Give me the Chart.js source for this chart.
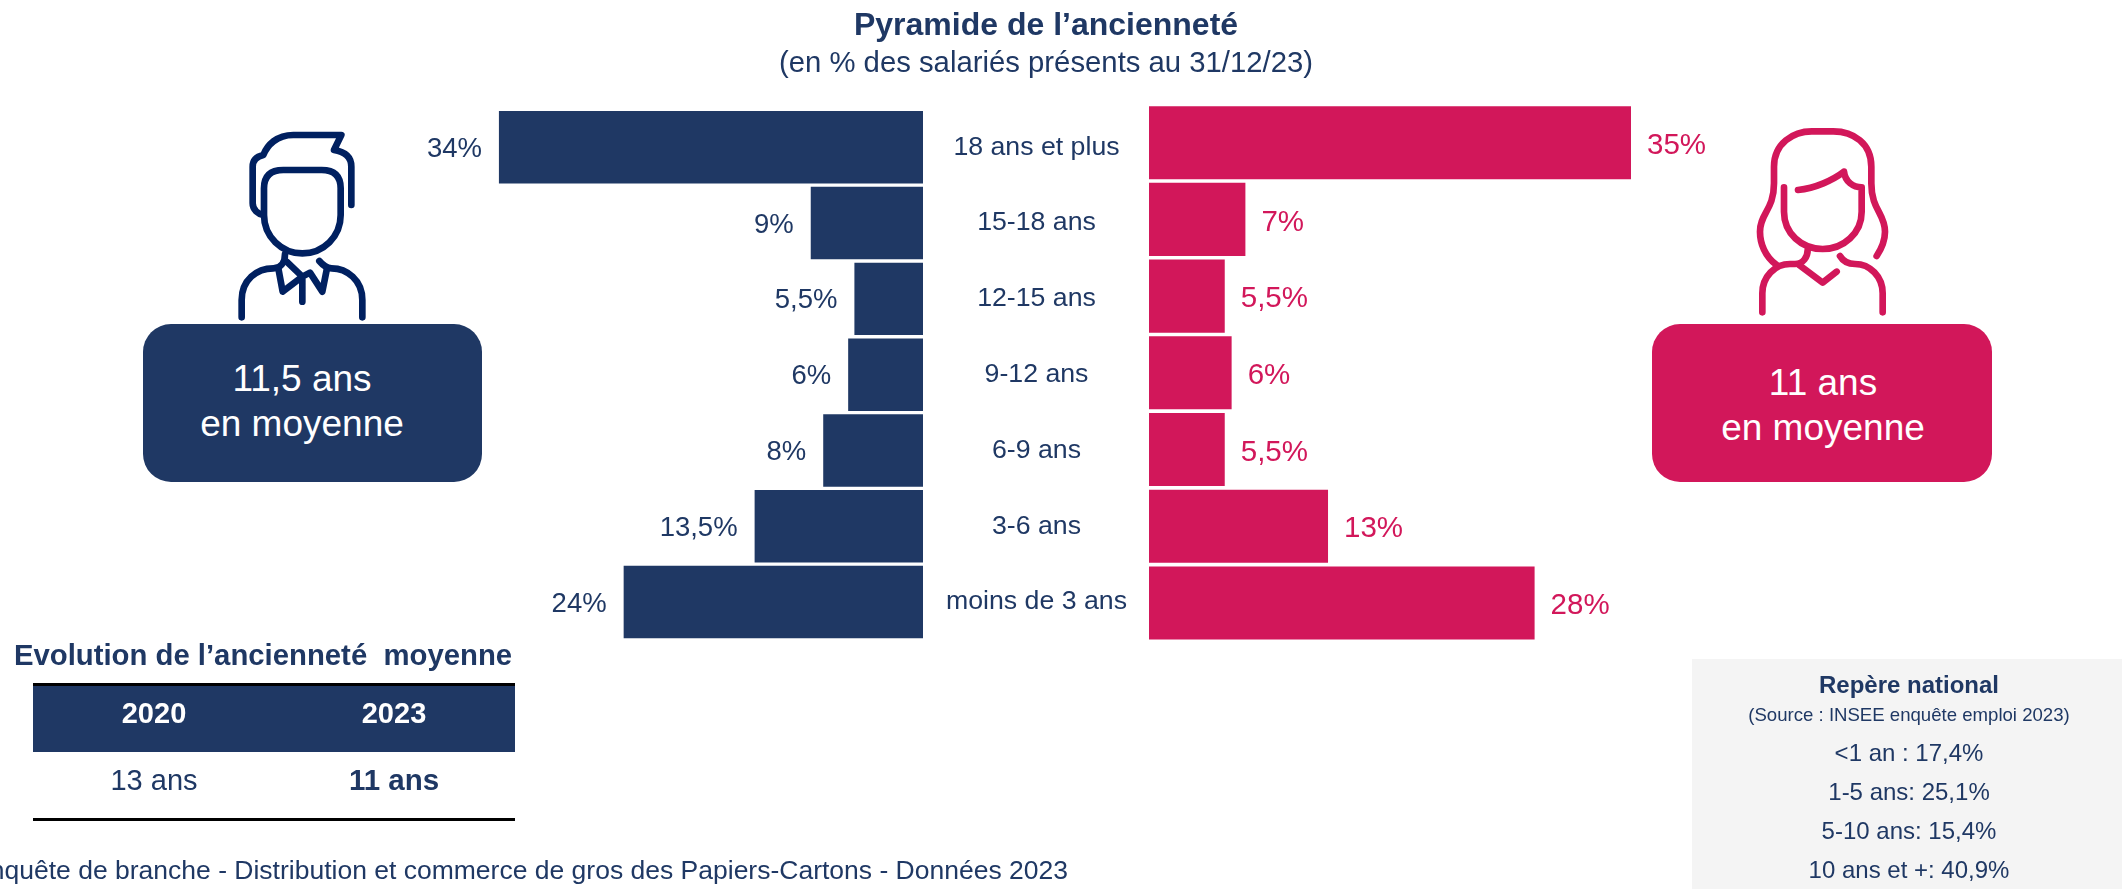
<!DOCTYPE html>
<html lang="fr">
<head>
<meta charset="utf-8">
<title>Pyramide de l'ancienneté</title>
<script src="https://cdn.jsdelivr.net/npm/chart.js@4"></script>
<style>
html,body{margin:0;padding:0;background:#fff;width:2126px;height:889px;overflow:hidden;font-family:"Liberation Sans",Arial,sans-serif;color:#1F3864}
#stage{position:relative;width:2126px;height:889px;overflow:hidden}
canvas{position:absolute;top:0}
.t{position:absolute;white-space:pre;transform:translate(-50%,-50%);line-height:1}
.r{position:absolute}
svg{position:absolute;fill:none;stroke-linecap:round;stroke-linejoin:round;stroke-width:20}
</style>
</head>
<body>
<div id="stage">
  <div class="r" style="left:1692px;top:659px;width:430px;height:230px;background:#F4F4F4"></div>
  <canvas id="men" width="1149" height="889" style="left:0"></canvas>
  <canvas id="women" width="977" height="889" style="left:1149px"></canvas>

  <div class="t" style="left:1046px;top:24px;font-size:32px;font-weight:bold">Pyramide de l’ancienneté</div>
  <div class="t" style="left:1046px;top:62px;font-size:29.3px">(en % des salariés présents au 31/12/23)</div>

  <svg style="left:130px;top:100px;stroke:#002060" width="400" height="400" viewBox="0 0 1200 1200">
    <path d="M664 315V200C664 170 645 155 612 150L634 105H490C440 105 412 135 400 165C378 170 368 182 368 200V310C368 330 385 342 400 345"/>
    <path d="M402 265Q402 210 460 210H575Q632 210 632 265V345C632 410 580 460 517 460C455 460 402 410 402 345Z"/>
    <path d="M335 652V600C335 540 380 505 430 505C450 505 465 490 465 462"/>
    <path d="M697 652V600C697 540 650 505 605 505C590 505 578 495 568 483"/>
    <path d="M445 505L458 575L517 530L470 485M517 530L540 518L577 575L590 510M517 535V605"/>
  </svg>
  <svg style="left:1640px;top:100px;stroke:#D2175A" width="400" height="400" viewBox="0 0 1200 1200">
    <path d="M410 495C375 470 360 430 360 395C360 340 402 330 402 250V200C402 130 460 94 515 94H580C640 94 694 130 694 200V250C694 330 735 340 735 395C735 420 725 445 710 468"/>
    <path d="M432 262V335C432 400 485 447 548 447C610 447 665 400 665 335V262C640 262 615 245 612 215C580 240 525 265 474 270"/>
    <path d="M367 637V580C367 530 405 492 450 492H465C490 492 503 470 503 450"/>
    <path d="M480 497L548 548L590 515"/>
    <path d="M728 637V580C728 530 690 492 645 492C625 492 610 485 600 468"/>
  </svg>

  <div class="r" style="left:143px;top:324px;width:339px;height:158px;border-radius:28px;background:#1F3864"></div>
  <div class="t" style="left:302px;top:378px;font-size:37px;color:#fff">11,5 ans</div>
  <div class="t" style="left:302px;top:423px;font-size:37px;color:#fff">en moyenne</div>
  <div class="r" style="left:1652px;top:324px;width:340px;height:158px;border-radius:28px;background:#D2175A"></div>
  <div class="t" style="left:1823px;top:382px;font-size:37px;color:#fff">11 ans</div>
  <div class="t" style="left:1823px;top:427px;font-size:37px;color:#fff">en moyenne</div>

  <div class="t" style="left:263px;top:655px;font-size:29.3px;font-weight:bold">Evolution de l’ancienneté  moyenne</div>
  <div class="r" style="left:33px;top:686px;width:482px;height:66px;background:#1F3864"></div>
  <div class="r" style="left:33px;top:683px;width:482px;height:3px;background:#000"></div>
  <div class="r" style="left:33px;top:818px;width:482px;height:3px;background:#000"></div>
  <div class="t" style="left:154px;top:713px;font-size:29px;font-weight:bold;color:#fff">2020</div>
  <div class="t" style="left:394px;top:713px;font-size:29px;font-weight:bold;color:#fff">2023</div>
  <div class="t" style="left:154px;top:780px;font-size:29px">13 ans</div>
  <div class="t" style="left:394px;top:780px;font-size:29.5px;font-weight:bold">11 ans</div>

  <div class="t" style="left:1068px;top:870px;font-size:26.5px;transform:translate(-100%,-50%)">Enquête de branche - Distribution et commerce de gros des Papiers-Cartons - Données 2023</div>

  <div class="t" style="left:1909px;top:685px;font-size:24px;font-weight:bold">Repère national</div>
  <div class="t" style="left:1909px;top:715px;font-size:18.6px">(Source : INSEE enquête emploi 2023)</div>
  <div class="t" style="left:1909px;top:753px;font-size:24px">&lt;1 an : 17,4%</div>
  <div class="t" style="left:1909px;top:792px;font-size:24px">1-5 ans: 25,1%</div>
  <div class="t" style="left:1909px;top:831px;font-size:24px">5-10 ans: 15,4%</div>
  <div class="t" style="left:1909px;top:870px;font-size:24px">10 ans et +: 40,9%</div>
</div>
<script>
const categories = ["18 ans et plus","15-18 ans","12-15 ans","9-12 ans","6-9 ans","3-6 ans","moins de 3 ans"];
const hommes = [34, 9, 5.5, 6, 8, 13.5, 24];
const femmes = [35, 7, 5.5, 6, 5.5, 13, 28];
const NAVY = "#1F3864", PINK = "#D2175A", FONT = '"Liberation Sans", Arial, sans-serif';

const valueLabels = {
  id: "valueLabels",
  afterDatasetsDraw(chart, args, opts) {
    const ctx = chart.ctx, ds = chart.data.datasets[0];
    ctx.save();
    ctx.font = opts.size + "px " + FONT;
    ctx.fillStyle = ds.backgroundColor;
    ctx.textBaseline = "middle";
    ctx.textAlign = opts.side === "left" ? "right" : "left";
    chart.getDatasetMeta(0).data.forEach((bar, i) => {
      const dx = opts.side === "left" ? -17 : 16;
      ctx.fillText(String(ds.data[i]).replace(".", ",") + "%", bar.x + dx, bar.y + opts.dy);
    });
    ctx.restore();
  }
};

function base(values, color, thickness) {
  return {
    type: "bar",
    data: { labels: categories, datasets: [{ data: values, backgroundColor: color, barPercentage: thickness, categoryPercentage: 1 }] },
    plugins: [valueLabels],
    options: {
      indexAxis: "y", responsive: false, animation: false, devicePixelRatio: 1,
      plugins: { legend: { display: false }, tooltip: { enabled: false } }
    }
  };
}

const left = base(hommes, NAVY, 0.956);
left.options.plugins.valueLabels = { side: "left", size: 27.5, dy: 2 };
left.options.layout = { padding: { top: 109.4, bottom: 249.1, left: 0, right: 0 } };
left.options.scales = {
  x: { display: false, reverse: true, min: 0, max: 74 },
  y: {
    position: "right",
    afterFit(s) { s.width = 226; },
    grid: { display: false }, border: { display: false },
    ticks: { color: NAVY, font: { size: 26.7, family: FONT }, crossAlign: "center", padding: 15, autoSkip: false }
  }
};
new Chart(document.getElementById("men"), left);

const right = base(femmes, PINK, 0.952);
right.options.plugins.valueLabels = { side: "right", size: 29.5, dy: 3 };
right.options.layout = { padding: { top: 104.3, bottom: 247.6, left: 0, right: 13 } };
right.options.scales = {
  x: { display: false, min: 0, max: 70 },
  y: { display: false }
};
new Chart(document.getElementById("women"), right);
</script>
</body>
</html>
